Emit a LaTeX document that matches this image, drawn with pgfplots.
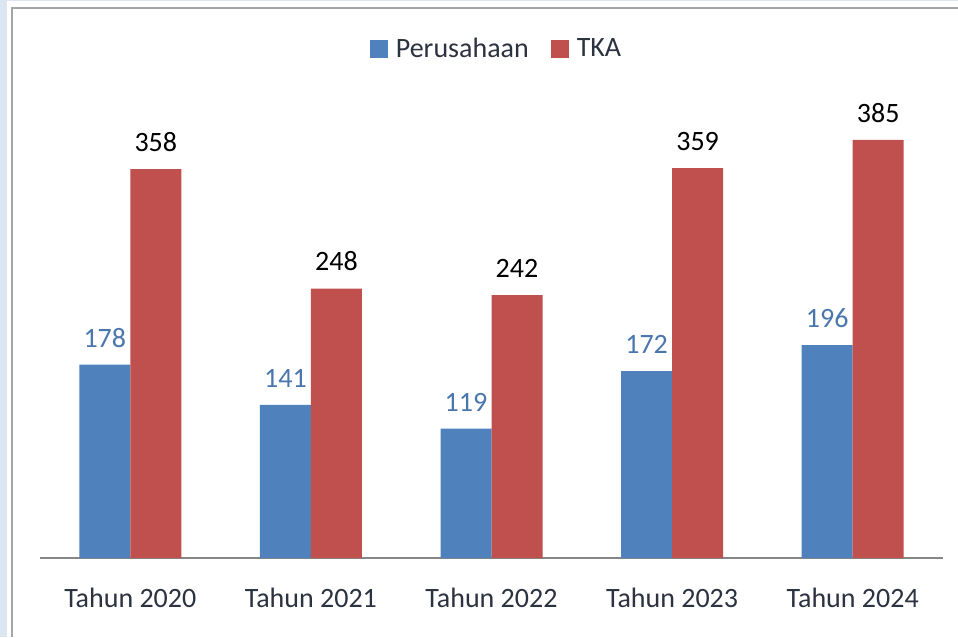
\documentclass[border=0pt]{standalone}
\usepackage{fontspec}
\setmainfont{Carlito}
\usepackage{pgfplots}
\pgfplotsset{compat=1.18}
\definecolor{barblue}{HTML}{4F81BD}
\definecolor{barred}{HTML}{C0504D}
\definecolor{lblblue}{HTML}{4A76AE}
\definecolor{txt}{HTML}{2B3240}
\definecolor{edge}{HTML}{DCE6F2}
\definecolor{framegray}{HTML}{A5A5A5}
\definecolor{axisgray}{HTML}{868686}
\newcommand{\chartfont}{\fontsize{14pt}{17pt}\selectfont}

\begin{document}
\begin{tikzpicture}[x=1pt,y=1pt]
% window edge and chart frame
\fill[edge] (0,0) rectangle (479,-318.5);
\fill[white] (3.5,-0.5) rectangle (479,-318.5);
\draw[framegray, line width=1pt] (6,-318.5) -- (6,-4) -- (479,-4);

\begin{axis}[
  at={(20pt,-279pt)}, anchor=south west,
  scale only axis, width=451.5pt, height=239pt,
  ybar=0pt, bar width=25.5pt,
  ymin=0, ymax=440, xmin=-0.5, xmax=4.5,
  enlargelimits=false,
  axis y line=none, axis x line*=bottom,
  x axis line style={axisgray, line width=0.75pt},
  xtick={0,1,2,3,4},
  xticklabels={Tahun 2020,Tahun 2021,Tahun 2022,Tahun 2023,Tahun 2024},
  major tick length=0pt,
  /pgf/number format/assume math mode=true,
  xticklabel style={font=\chartfont, text=txt, anchor=base, yshift=-24.5pt},
  legend columns=2,
  legend style={draw=none, fill=none, at={(0.5,1)}, anchor=center,
    yshift=15.5pt, xshift=3pt, font=\chartfont, text=txt,
    /tikz/every even column/.append style={column sep=9pt}},
  legend image code/.code={\path[#1, draw=none] (-1pt,-4.5pt) rectangle (8pt,4.5pt); \path (10pt,0pt);},
  nodes near coords,
  every node near coord/.append style={font=\chartfont, inner sep=0pt, yshift=8.5pt},
]
\addplot[fill=barblue, draw=none,
  every node near coord/.append style={text=lblblue}]
  coordinates {(0,178) (1,141) (2,119) (3,172) (4,196)};
\addplot[fill=barred, draw=none,
  every node near coord/.append style={text=black}]
  coordinates {(0,358) (1,248) (2,242) (3,359) (4,385)};
\legend{Perusahaan, TKA}
\end{axis}
\pgfresetboundingbox
\useasboundingbox (0,0) rectangle (479,-318.5);
\end{tikzpicture}
\end{document}
